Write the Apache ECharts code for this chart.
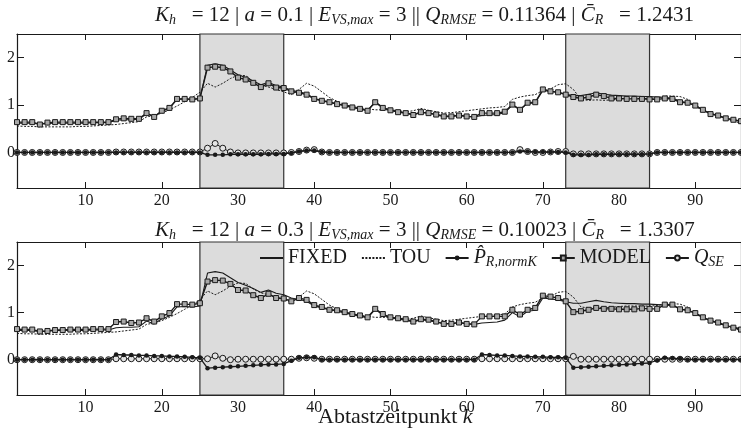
<!DOCTYPE html>
<html>
<head>
<meta charset="utf-8">
<title>Abtastzeitpunkt</title>
<script src="https://cdn.jsdelivr.net/npm/echarts@6/dist/echarts.min.js"></script>
<style>
  html, body { margin: 0; padding: 0; background: #fff; }
  #main { width: 741px; height: 431px; }
</style>
</head>
<body>
<div id="main"></div>
<script>
// Abtastzeitpunkte k = 1..96
var ks = [];
for (var i = 1; i <= 96; i++) ks.push(i);

var xTicks = [10, 20, 30, 40, 50, 60, 70, 80, 90];
var yTicks = [0, 1, 2];
var shaded = [[25, 36], [73, 84]];

// gleich in beiden Diagrammen
var fixedVals = [0.62,0.62,0.62,0.60,0.61,0.62,0.62,0.62,0.62,0.62,0.63,0.63,0.63,
  0.68,0.69,0.69,0.70,
  0.82,0.76,0.87,0.93,1.12,1.13,1.12,1.14,
  1.84,1.87,1.84,1.74,1.64,1.58,1.51,1.43,1.48,1.41,1.38,
  1.31,1.28,1.24,1.14,1.10,1.06,1.03,0.99,0.96,0.92,0.89,
  1.07,0.95,0.89,0.86,0.84,0.80,0.85,0.83,0.80,0.77,0.77,0.79,0.77,0.75,
  0.78,0.79,0.80,0.84,1.00,0.91,1.03,1.05,
  1.31,1.29,1.27,1.23,1.20,1.20,1.23,1.26,1.23,1.21,1.20,1.19,1.19,1.18,1.18,1.17,
  1.16,1.15,1.08,1.05,0.99,0.90,0.82,0.78,0.72,0.69,0.66];

var touVals = [0.56,0.55,0.55,0.54,0.54,0.54,0.54,0.54,0.55,0.55,0.56,0.57,0.58,0.59,0.61,0.63,0.65,
  0.75,0.78,0.83,0.90,0.98,1.07,1.16,1.27,
  1.46,1.38,1.46,1.56,1.63,1.62,1.50,1.42,1.38,1.33,1.28,
  1.22,1.33,1.46,1.40,1.28,1.16,1.08,1.01,0.97,0.94,0.92,
  0.90,0.90,0.90,0.88,0.86,0.88,0.93,0.89,0.86,0.83,0.84,0.86,0.88,0.90,0.92,0.94,0.95,
  0.97,1.12,1.17,1.20,1.22,1.31,1.34,1.43,1.45,
  1.33,1.12,1.10,1.11,1.10,1.11,1.13,1.14,1.14,1.14,1.14,1.15,
  1.19,1.19,1.18,1.12,0.97,0.89,0.83,0.78,0.71,0.66,0.62];

// oben: a = 0.1
var model1 = [0.64,0.64,0.64,0.59,0.63,0.64,0.64,0.64,0.64,0.64,0.64,0.64,0.64,
  0.70,0.72,0.71,0.71,
  0.83,0.75,0.88,0.94,1.13,1.13,1.12,1.14,
  1.79,1.81,1.79,1.71,1.58,1.54,1.47,1.38,1.46,1.37,1.36,
  1.29,1.26,1.22,1.13,1.09,1.06,1.02,0.99,0.95,0.92,0.88,
  1.06,0.94,0.89,0.85,0.83,0.79,0.85,0.83,0.80,0.76,0.76,0.78,0.76,0.75,0.83,0.83,0.83,
  0.86,1.01,0.90,1.05,1.06,1.33,1.29,1.27,1.22,
  1.17,1.14,1.17,1.22,1.19,1.14,1.14,1.13,1.13,1.13,1.12,1.12,
  1.14,1.13,1.06,1.05,0.99,0.90,0.81,0.78,0.72,0.69,0.66];

var price1 = [0,0,0,0,0,0,0,0,0,0,0,0,0,0,0,0,0,0,0,0,0,0,0,0,0,
  -0.05,-0.05,-0.05,-0.04,-0.04,-0.04,-0.04,-0.04,-0.03,-0.03,-0.03,
  -0.01,0.02,0.04,0.04,0.01,
  0,0,0,0,0,0,0,0,0,0,0,0,0,0,0,0,0,0,0,0,0,0,0,0,0,
  0.02,0.02,0.01,0.01,0.01,0.01,
  0,
  -0.05,-0.05,-0.05,-0.04,-0.04,-0.04,-0.04,-0.04,-0.04,-0.04,-0.03,
  0,0,0,0,0,0,0,0,0,0,0,0];

var qse1 = [0,0,0,0,0,0,0,0,0,0,0,0,0,
  0.01,0.01,0.01,0.01,0.01,0.01,0.01,0.01,0.01,0.01,0.01,0.01,
  0.09,0.19,0.09,0.01,
  -0.01,-0.01,-0.01,-0.01,-0.01,-0.01,-0.01,
  0,0.02,0.05,0.06,0.01,
  0,0,0,0,0,0,0,0,0,0,0,0,0,0,0,0,0,0,0,0,0,0,0,0,0,
  0.06,0.02,0,0,0.01,0.02,0.02,
  -0.03,-0.03,-0.03,-0.03,-0.03,-0.03,-0.03,-0.03,-0.03,-0.03,-0.03,
  0,0,0,0,0,0,0,0,0,0,0,0];

// unten: a = 0.3
var model2 = [0.65,0.64,0.64,0.60,0.61,0.63,0.63,0.64,0.64,0.64,0.65,0.65,0.65,
  0.80,0.81,0.78,0.79,
  0.88,0.81,0.92,0.99,1.18,1.18,1.17,1.20,
  1.66,1.69,1.68,1.61,1.48,1.47,1.37,1.31,1.40,1.31,1.30,
  1.24,1.31,1.27,1.16,1.12,1.06,1.05,1.01,0.97,0.94,0.90,
  1.08,0.97,0.90,0.88,0.86,0.81,0.86,0.85,0.81,0.76,0.76,0.79,0.76,0.75,0.92,0.92,0.92,
  0.92,1.06,0.96,1.06,1.10,1.36,1.34,1.31,1.24,
  1.01,1.03,1.06,1.10,1.08,1.08,1.07,1.07,1.07,1.09,1.08,1.08,
  1.17,1.17,1.07,1.05,0.99,0.90,0.83,0.79,0.73,0.68,0.64];

var price2 = [0,0,0,0,0,0,0,0,0,0,0,0,0,
  0.11,0.10,0.10,0.09,0.09,0.08,0.08,0.07,0.07,0.06,0.05,0.04,
  -0.18,-0.17,-0.16,-0.15,-0.14,-0.13,-0.12,-0.11,-0.10,-0.10,-0.09,
  -0.02,0.04,0.05,0.05,
  0,0,0,0,0,0,0,0,0,0,0,0,0,0,0,0,0,0,0,0,0,
  0.11,0.10,0.09,0.09,0.08,0.07,0.07,0.06,0.06,0.05,0.05,0.04,
  -0.17,-0.16,-0.15,-0.14,-0.13,-0.12,-0.11,-0.10,-0.09,-0.08,-0.07,
  -0.01,0.04,0.03,0.02,
  0,0,0,0,0,0,0,0];

var qse2 = [0,0,0,0,0,0,0,0,0,0,0,0,0,
  0.02,0.02,0.02,0.02,0.02,0.02,0.02,0.02,0.02,0.02,0.02,0.02,0.02,
  0.08,0.03,0,
  0.01,0.01,0.01,0.01,0.01,0.01,0.01,0.01,
  0.03,0.04,0.03,
  0.01,0.01,0.01,0.01,0.01,0.01,0.01,0.01,0.01,0.01,0.01,0.01,0.01,0.01,0.01,0.01,0.01,0.01,0.01,0.01,0.01,
  0.02,0.02,0.02,0.02,0.02,0.02,0.02,0.02,0.02,0.02,0.02,0.02,
  0.07,
  0.01,0.01,0.01,0.01,0.01,0.01,0.01,0.01,0.01,0.01,0.01,0.01,0.01,0.01,0.01,0.01,0.01,0.01,0.01,0.01,0.01,0.01];

var serif = 'Liberation Serif';
var ink = '#1a1a1a';

function pairs(vals) {
  return ks.map(function (k, j) { return [k, vals[j]]; });
}

var rich = {
  n: { fontFamily: serif, fontSize: 21, fontWeight: 'normal', color: ink },
  i: { fontFamily: serif, fontSize: 21, fontWeight: 'normal', fontStyle: 'italic', color: ink },
  s: { fontFamily: serif, fontSize: 14, fontWeight: 'normal', fontStyle: 'italic', color: ink, padding: [10, 0, 0, 0] }
};

function titleText(a, q, c) {
  return '{i|K}{s|h}{n|   = 12 | }{i|a}{n| = ' + a + ' | }{i|E}{s|VS,max}{n| = 3 || }' +
    '{i|Q}{s|RMSE}{n| = ' + q + ' | }{i|C\u0304}{s|R}{n|   = ' + c + '}';
}

function xAx(grid, pos) {
  return {
    type: 'value', gridIndex: grid, position: pos, min: 1, max: 96,
    splitLine: { show: false },
    axisLine: { onZero: false, lineStyle: { color: ink, width: 1.2 } },
    axisTick: { inside: true, length: 6, customValues: xTicks, lineStyle: { color: ink } },
    axisLabel: {
      show: pos === 'bottom', customValues: xTicks, margin: 5,
      fontFamily: serif, fontSize: 16, color: ink
    }
  };
}

function yAx(grid, pos) {
  return {
    type: 'value', gridIndex: grid, position: pos, min: -0.75, max: 2.5,
    splitLine: { show: false },
    axisLine: { onZero: false, lineStyle: { color: ink, width: 1.2 } },
    axisTick: { inside: true, length: 7, customValues: yTicks, lineStyle: { color: ink } },
    axisLabel: {
      show: pos === 'left', customValues: yTicks, margin: 2,
      fontFamily: serif, fontSize: 16, color: ink
    }
  };
}

function panel(grid, model, price, qse) {
  var xi = grid * 2, yi = grid * 2;
  return [
    {
      name: 'FIXED', type: 'line', xAxisIndex: xi, yAxisIndex: yi, data: pairs(fixedVals),
      showSymbol: false, symbol: 'none', lineStyle: { color: ink, width: 1.1 }, itemStyle: { color: ink },
      markArea: {
        silent: true,
        itemStyle: { color: '#dcdcdc', borderColor: '#333', borderWidth: 1.2 },
        data: shaded.map(function (r) { return [{ xAxis: r[0] }, { xAxis: r[1] }]; })
      },
      z: 3
    },
    {
      name: 'TOU', type: 'line', xAxisIndex: xi, yAxisIndex: yi, data: pairs(touVals),
      showSymbol: false, symbol: 'none',
      lineStyle: { color: ink, width: 1, type: [2, 1.5] }, itemStyle: { color: ink }, z: 3
    },
    {
      name: 'PR', type: 'line', xAxisIndex: xi, yAxisIndex: yi, data: pairs(price),
      symbol: 'circle', symbolSize: 4.5,
      lineStyle: { color: ink, width: 1.3 }, itemStyle: { color: ink }, z: 5
    },
    {
      name: 'MODEL', type: 'line', xAxisIndex: xi, yAxisIndex: yi, data: pairs(model),
      symbol: 'rect', symbolSize: 5,
      lineStyle: { color: ink, width: 1.4 },
      itemStyle: { color: '#a8a8a8', borderColor: ink, borderWidth: 1 }, z: 5
    },
    {
      name: 'QSE', type: 'line', xAxisIndex: xi, yAxisIndex: yi, data: pairs(qse),
      symbol: 'circle', symbolSize: 6,
      lineStyle: { color: ink, width: 1 },
      itemStyle: { color: '#e4e4e4', borderColor: ink, borderWidth: 1 }, z: 4
    }
  ];
}

var legendNames = {
  FIXED: '{n|FIXED}',
  TOU: '{n|TOU}',
  PR: '{i|P\u0302}{s|R,normK}',
  MODEL: '{n|MODEL}',
  QSE: '{i|Q}{s|SE}'
};

var chart = echarts.init(document.getElementById('main'), null, { renderer: 'canvas' });

chart.setOption({
  animation: false,
  backgroundColor: '#fff',
  title: [
    { text: titleText('0.1', '0.11364', '1.2431'), left: 150, top: -2, textStyle: { rich: rich } },
    { text: titleText('0.3', '0.10023', '1.3307'), left: 150, top: 213, textStyle: { rich: rich } }
  ],
  grid: [
    { left: 17, right: -3, top: 34, height: 154 },
    { left: 17, right: -3, top: 242, height: 153 }
  ],
  xAxis: [xAx(0, 'bottom'), xAx(0, 'top'), xAx(1, 'bottom'), xAx(1, 'top')],
  yAxis: [yAx(0, 'left'), yAx(0, 'right'), yAx(1, 'left'), yAx(1, 'right')],
  legend: {
    data: [
      { name: 'FIXED', itemStyle: { opacity: 0 } },
      { name: 'TOU', itemStyle: { opacity: 0 } },
      'PR', 'MODEL', 'QSE'
    ],
    left: 254, top: 243, itemWidth: 23, itemHeight: 6, itemGap: 14,
    formatter: function (name) { return legendNames[name]; },
    textStyle: {
      rich: {
        n: { fontFamily: serif, fontSize: 20, color: ink },
        i: { fontFamily: serif, fontSize: 20, fontStyle: 'italic', color: ink },
        s: { fontFamily: serif, fontSize: 14, fontStyle: 'italic', color: ink, padding: [9, 0, 0, 0] }
      }
    }
  },
  graphic: [{
    type: 'text', left: 318, top: 406,
    style: {
      text: '{n|Abtastzeitpunkt }{i|k}',
      rich: {
        n: { fontFamily: serif, fontSize: 22, fill: ink },
        i: { fontFamily: serif, fontSize: 22, fontStyle: 'italic', fill: ink }
      }
    }
  }],
  series: panel(0, model1, price1, qse1).concat(panel(1, model2, price2, qse2))
});
</script>
</body>
</html>
